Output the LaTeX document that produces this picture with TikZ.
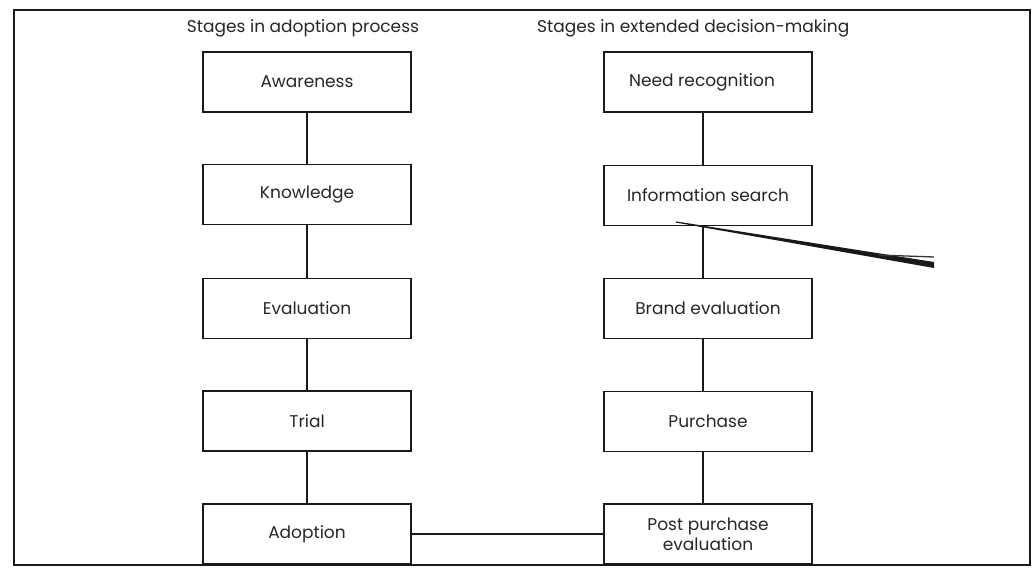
\documentclass[tikz,border=0pt]{standalone}
\usepackage{fontspec}
\setmainfont{Poppins}
\usetikzlibrary{calc}
\begin{document}
\begin{tikzpicture}[x=1pt,y=-1pt,
  stagebox/.style={draw=black!90,line width=1.5pt,minimum width=208pt,minimum height=60pt,
    inner sep=2pt,align=center,font=\fontsize{17}{20}\selectfont,text=black!85},
  heading/.style={font=\fontsize{17}{20}\selectfont,text=black!85,inner sep=0pt},
  link/.style={draw=black!90,line width=1.5pt}]
\useasboundingbox (0,0) rectangle (1036,569);
% outer frame
\draw[line width=1.8pt,black!90] (14,10) rectangle (1030,565);
% column headings
\node[heading] (hl) at (303,28) {Stages in adoption process};
\node[heading,anchor=west] (hr) at (537,28) {Stages in extended decision-making};
% adoption process column
\node[stagebox] (aw) at (307,82)    {Awareness};
\node[stagebox] (kn) at (307,194.5) {Knowledge};
\node[stagebox] (ev) at (307,308.5) {Evaluation};
\node[stagebox] (tr) at (307,421)   {Trial};
\node[stagebox] (ad) at (307,534)   {Adoption};
% decision-making column
\node[stagebox] (nr) at (708,82)    {\hspace*{-12pt}Need recognition};
\node[stagebox] (is) at (708,195.5) {Information search};
\node[stagebox] (be) at (708,308.5) {Brand evaluation};
\node[stagebox] (pu) at (708,421.5) {Purchase};
\node[stagebox] (pp) at (708,534)   {Post purchase\\evaluation};
% vertical connectors
\draw[link] (aw) -- (kn);
\draw[link] (kn) -- (ev);
\draw[link] (ev) -- (tr);
\draw[link] (tr) -- (ad);
\draw[link] ([xshift=-5pt]nr.south) -- ([xshift=-5pt]is.north);
\draw[link] ([xshift=-5pt]is.south) -- ([xshift=-5pt]be.north);
\draw[link] ([xshift=-5pt]be.south) -- ([xshift=-5pt]pu.north);
\draw[link] ([xshift=-5pt]pu.south) -- ([xshift=-5pt]pp.north);
% link between the two final stages
\draw[link] (ad.east) -- (pp.west);
% pen stroke
\coordinate (s0) at (676,222);
\coordinate (s1) at (934,265);
\fill[black!90] ($(s0)+(0,-0.6)$) -- ($(s1)+(0,-3)$) -- ($(s1)+(0,3)$) -- ($(s0)+(0,0.6)$) -- cycle;
\draw[black!80,line width=1.3pt] (878,255) -- (934,257);
\end{tikzpicture}
\end{document}
